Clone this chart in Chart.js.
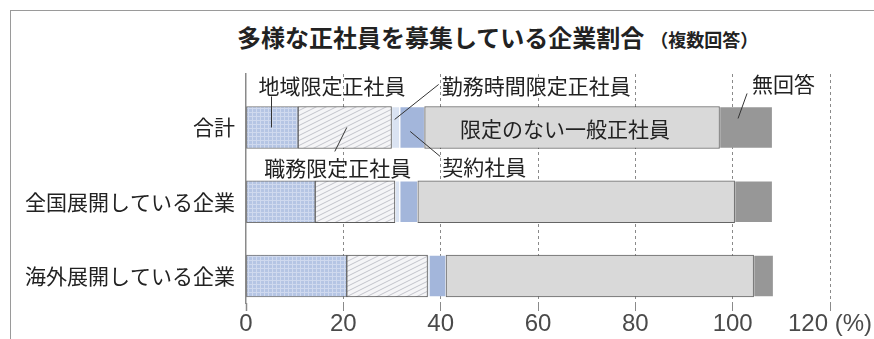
<!DOCTYPE html>
<html lang="ja">
<head>
<meta charset="utf-8">
<script src="https://cdn.jsdelivr.net/npm/chart.js@4.4.1/dist/chart.umd.min.js"></script>
<style>
    html, body { margin: 0; padding: 0; background: #fff; }
    #wrap { position: relative; width: 874px; height: 339px; overflow: hidden; }
    #frame { position: absolute; left: 10px; top: 10px; width: 900px; height: 400px;
             border-left: 1.5px solid #9a9a9a; border-top: 1.5px solid #9a9a9a; }
    #title { position: absolute; left: 237px; top: 21px; white-space: nowrap;
             font-family: "Noto Sans CJK JP", sans-serif; font-weight: bold;
             font-size: 24px; line-height: 32px; color: #222; }
    #title small { font-size: 18px; margin-left: 6px; }
    canvas { position: absolute; left: 0; top: 0; }
</style>
</head>
<body>
<div id="wrap">
    <div id="frame"></div>
    <div id="title">多様な正社員を募集している企業割合<small>（複数回答）</small></div>
    <canvas id="chart" width="874" height="339"></canvas>
</div>
<script>
// ----------------- Data -----------------
const categories = ['合計', '全国展開している企業', '海外展開している企業'];
const seriesNames = ['地域限定正社員', '職務限定正社員', '勤務時間限定正社員', '契約社員', '限定のない一般正社員', '無回答'];
const chiiki = [10.7, 14.2, 20.7];
const shokumu = [19.2, 16.4, 16.6];
const kinmu = [1.7, 1.0, 0.3];
const keiyaku = [5.1, 3.7, 3.5];
const ippan = [60.6, 65.1, 63.2];
const mukaito = [10.9, 7.8, 4.1];
const xTicks = [0, 20, 40, 60, 80, 100, 120];

const LABEL_FONT = '"Noto Sans CJK JP", "Noto Sans CJK SC", sans-serif';

// ----------------- Patterns -----------------
function gridPattern() {
    const c = document.createElement('canvas');
    c.width = 4; c.height = 4;
    const g = c.getContext('2d');
    g.fillStyle = '#b5c5e4';
    g.fillRect(0, 0, 4, 4);
    g.fillStyle = '#cfd9ee';
    g.fillRect(0, 0, 4, 1);
    g.fillRect(0, 0, 1, 4);
    return g.createPattern(c, 'repeat');
}

function hatchPattern() {
    const c = document.createElement('canvas');
    c.width = 10; c.height = 5;
    const g = c.getContext('2d');
    g.fillStyle = '#f5f5f7';
    g.fillRect(0, 0, 10, 5);
    g.strokeStyle = '#c2c3cb';
    g.lineWidth = 1;
    [0, 5, 10].forEach(off => {
        g.beginPath();
        g.moveTo(-2, off + 1);
        g.lineTo(12, off - 6);
        g.stroke();
    });
    return g.createPattern(c, 'repeat');
}

const fills = [gridPattern(), hatchPattern(), '#dae3f2', '#a3b6db', '#d9d9d9', '#979797'];
const borders = ['rgba(60,60,60,0.7)', 'rgba(50,50,50,0.8)', 'rgba(0,0,0,0)', 'rgba(0,0,0,0)', 'rgba(50,50,50,0.75)', 'rgba(0,0,0,0)'];
const seriesValues = [chiiki, shokumu, kinmu, keiyaku, ippan, mukaito];

const datasets = seriesValues.map((vals, i) => ({
    label: seriesNames[i],
    data: vals.map((v, row) => ({ x: v, y: row })),
    backgroundColor: fills[i],
    borderColor: borders[i],
    borderWidth: 1,
    borderSkipped: false,
    barThickness: 42
}));

// ----------------- Callout labels -----------------
const callouts = {
    id: 'callouts',
    afterDatasetsDraw(chart) {
        const ctx = chart.ctx;
        const bar = i => chart.getDatasetMeta(i).data[0];
        const line = (x1, y1, x2, y2) => {
            ctx.beginPath();
            ctx.moveTo(x1, y1);
            ctx.lineTo(x2, y2);
            ctx.stroke();
        };
        ctx.save();
        ctx.font = '21px ' + LABEL_FONT;
        ctx.fillStyle = '#222';
        ctx.strokeStyle = '#333';
        ctx.lineWidth = 1;
        ctx.textBaseline = 'middle';

        // 地域限定正社員
        let b = bar(0);
        let top = b.y - b.height / 2, bottom = b.y + b.height / 2;
        ctx.textAlign = 'left';
        ctx.fillText(seriesNames[0], b.base + 12, top - 20);
        line(b.base + 25, top - 10, b.base + 25, b.y);

        // 職務限定正社員
        b = bar(1);
        let cx = (b.base + b.x) / 2;
        line(cx + 2, b.y, cx - 10, bottom + 3);
        ctx.textAlign = 'center';
        ctx.fillText(seriesNames[1], cx - 7, bottom + 20);

        // 勤務時間限定正社員
        b = bar(2);
        cx = (b.base + b.x) / 2;
        line(cx - 1, b.y - 8, cx + 43, top - 22);
        ctx.textAlign = 'left';
        ctx.fillText(seriesNames[2], cx + 46, top - 20);

        // 契約社員
        b = bar(3);
        cx = (b.base + b.x) / 2;
        line(cx - 2, b.y + 4, cx + 28, bottom + 8);
        ctx.fillText(seriesNames[3], cx + 30, bottom + 19);

        // 限定のない一般正社員
        b = bar(4);
        cx = (b.base + b.x) / 2;
        ctx.textAlign = 'center';
        ctx.fillText(seriesNames[4], cx - 7, b.y + 1.5);

        // 無回答
        b = bar(5);
        cx = (b.base + b.x) / 2;
        line(cx - 8, b.y - 9, cx + 1, top - 13);
        ctx.textAlign = 'left';
        ctx.fillText(seriesNames[5], cx + 6, top - 22);

        ctx.restore();
    }
};

// ----------------- Chart -----------------
new Chart(document.getElementById('chart'), {
    type: 'bar',
    data: { datasets },
    options: {
        indexAxis: 'y',
        responsive: false,
        animation: false,
        layout: { padding: { left: 10, right: 44, top: 74, bottom: 0 } },
        plugins: {
            legend: { display: false },
            tooltip: { enabled: false }
        },
        scales: {
            x: {
                type: 'linear',
                stacked: true,
                min: 0,
                max: 120,
                afterBuildTicks: scale => { scale.ticks = xTicks.map(v => ({ value: v })); },
                afterFit: scale => { scale.height = 36; },
                ticks: {
                    padding: 1,
                    maxRotation: 0,
                    minRotation: 0,
                    autoSkip: false,
                    color: '#4a4a4a',
                    font: { family: '"Liberation Sans", sans-serif', size: 24, lineHeight: 1 },
                    callback: v => v === 120 ? '120 (%)' : String(v)
                },
                grid: {
                    color: c => c.tick && c.tick.value === 0 ? 'rgba(0,0,0,0)' : '#8a8a8a',
                    lineWidth: 1,
                    tickLength: 8,
                    tickColor: c => c.tick && c.tick.value === 0 ? '#8a8a8a' : '#8a8a8a',
                    tickWidth: c => c.tick && c.tick.value === 0 ? 1.5 : 1
                },
                border: { display: false, dash: [3, 3] }
            },
            y: {
                type: 'linear',
                stacked: true,
                reverse: true,
                offset: false,
                min: -0.72,
                max: 2.364,
                afterBuildTicks: scale => { scale.ticks = categories.map((c, i) => ({ value: i })); },
                afterFit: scale => { scale.width = 236; },
                ticks: {
                    padding: 3,
                    color: '#222',
                    font: { family: LABEL_FONT, size: 21 },
                    callback: v => categories[v]
                },
                grid: { display: false, offset: false },
                border: { display: true, color: '#8a8a8a', width: 1.5 }
            }
        }
    },
    plugins: [callouts]
});
</script>
</body>
</html>
